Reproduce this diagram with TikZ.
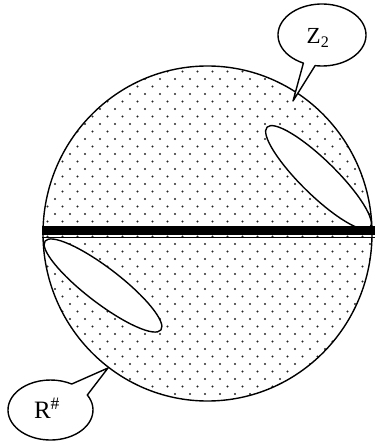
\documentclass[tikz,border=0pt]{standalone}
\usepackage{fontspec}
\setmainfont{Liberation Serif}
\begin{document}
\begin{tikzpicture}[x=1pt,y=-1pt,
  outline/.style={line width=1.4pt, line join=round},
  dotfill/.style={fill=black!85},
  hole/.style={outline, fill=white},
  bubble/.style={outline, fill=white},
  lbl/.style={inner sep=0pt, font=\fontsize{23}{26}\selectfont}]
\useasboundingbox (0,0) rectangle (375,446);
% stippled disc
\begin{scope}
  \clip (207.5,233.5) ellipse [x radius=164.5, y radius=167.5];
  \foreach \r in {0,...,46} {
    \pgfmathsetmacro\yy{64+7.5*\r}
    \pgfmathsetmacro\off{mod(\r,2)*7.5}
    \foreach \c in {0,...,23} {
      \fill[dotfill] (40+\off+15*\c, \yy) circle[radius=1.15];
    }
  }
\end{scope}
\draw[outline] (207.5,233.5) ellipse [x radius=164.5, y radius=167.5];
% white elongated holes
\draw[hole, rotate around={-44.4:(318.5,177.5)}] (318.5,177.5) ellipse [x radius=72, y radius=17.5];
\draw[hole, rotate around={-37.5:(103,285.5)}] (103,285.5) ellipse [x radius=73, y radius=17.5];
% black bar
\fill (42,225.5) rectangle (375,235);
\draw[line width=1.1pt] (42,237.6) -- (375,237.6);
% callout Z2
\draw[bubble] (293,101) -- (303.4,63.1) arc[start angle=115, end angle=459, x radius=44, y radius=31] -- cycle;
\node[lbl] (z2) at (318,38) {Z\textsubscript{2}};
% callout R#
\draw[bubble] (108,368) -- (87.3,395) arc[start angle=-30, end angle=300, x radius=42.5, y radius=30] -- cycle;
\node[lbl, font=\fontsize{25}{28}\selectfont] (rh) at (47,408) {R\textsuperscript{\#}};
\end{tikzpicture}
\end{document}
